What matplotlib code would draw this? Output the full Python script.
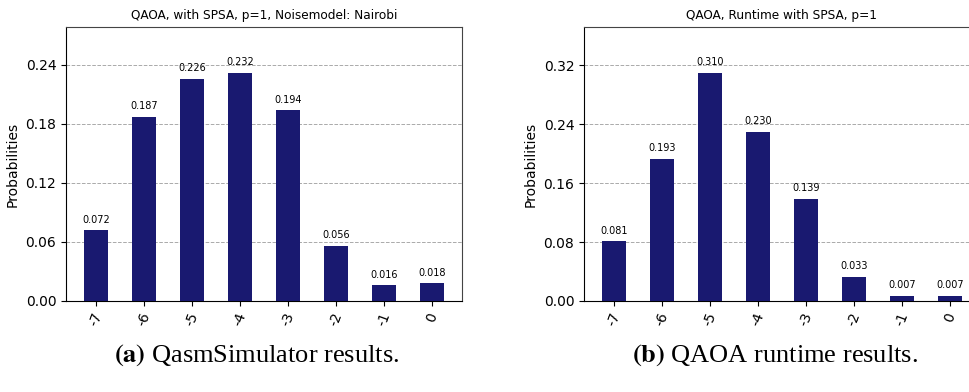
import numpy as np
import matplotlib
matplotlib.use("Agg")
import matplotlib.pyplot as plt

states = ["-7", "-6", "-5", "-4", "-3", "-2", "-1", "0"]
probs_sim = [0.072, 0.187, 0.226, 0.232, 0.194, 0.056, 0.016, 0.018]
probs_runtime = [0.081, 0.193, 0.310, 0.230, 0.139, 0.033, 0.007, 0.007]

title_sim = "QAOA, with SPSA, p=1, Noisemodel: Nairobi"
title_runtime = "QAOA, Runtime with SPSA, p=1"
tick_step_sim = 0.06
tick_step_runtime = 0.08

BAR_COLOR = "midnightblue"
plt.rcParams["mathtext.fontset"] = "stix"


def draw_hist(ax, values, title, step):
    x = np.arange(len(states))
    bars = ax.bar(x, values, width=0.5, color=BAR_COLOR, zorder=3)
    for b, v in zip(bars, values):
        ax.annotate(f"{v:.3f}", (b.get_x() + b.get_width() / 2, b.get_height()),
                    xytext=(0, 4), textcoords="offset points",
                    ha="center", va="bottom", fontsize=7)
    top = max(values) * 1.2
    ax.set_ylim(0, top)
    ax.set_xlim(-0.625, len(states) - 0.375)
    ax.set_yticks(np.arange(0, top, step))
    ax.yaxis.set_major_formatter(matplotlib.ticker.FormatStrFormatter("%.2f"))
    ax.set_xticks(x)
    ax.set_xticklabels(states, rotation=70, fontsize=10)
    ax.tick_params(axis="y", labelsize=10)
    ax.grid(axis="y", color="#aaaaaa", linestyle="--", linewidth=0.7, zorder=0)
    ax.set_ylabel("Probabilities", fontsize=10)
    ax.set_title(title, fontsize=8.7)
    for s in ("top", "right"):
        ax.spines[s].set_color("#444444")


fig = plt.figure(figsize=(9.7, 3.92), dpi=100)
ax1 = fig.add_axes([66 / 970, 1 - 301 / 392, 396 / 970, 274 / 392])
ax2 = fig.add_axes([584 / 970, 1 - 301 / 392, 396 / 970, 274 / 392])
draw_hist(ax1, probs_sim, title_sim, tick_step_sim)
draw_hist(ax2, probs_runtime, title_runtime, tick_step_runtime)

serif = ["Liberation Serif", "DejaVu Serif"]
fig.text(257 / 970, 1 - 355 / 392, r"$\mathbf{(a)}$ QasmSimulator results.", ha="center", va="center",
         fontsize=19, family=serif)
fig.text(775 / 970, 1 - 355 / 392, r"$\mathbf{(b)}$ QAOA runtime results.", ha="center", va="center",
         fontsize=19, family=serif)

fig.savefig("out.png", dpi=100)
